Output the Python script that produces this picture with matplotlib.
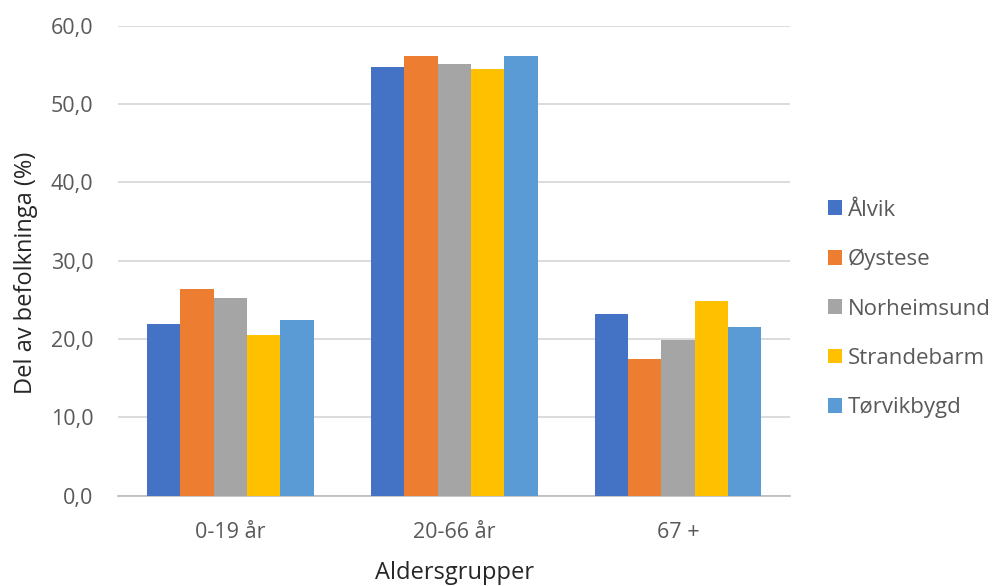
import numpy as np
import matplotlib.pyplot as plt

# Aldersgrupper og stader
grupper = ['0-19 år', '20-66 år', '67 +']
stader = ['Ålvik', 'Øystese', 'Norheimsund', 'Strandebarm', 'Tørvikbygd']

alvik = [21.9, 54.7, 23.2]
oystese = [26.4, 56.2, 17.5]
norheimsund = [25.2, 55.1, 19.9]
strandebarm = [20.5, 54.5, 24.9]
torvikbygd = [22.4, 56.2, 21.5]

verdiar = [alvik, oystese, norheimsund, strandebarm, torvikbygd]
fargar = ['#4472C4', '#ED7D31', '#A5A5A5', '#FFC000', '#5B9BD5']

plt.rcParams['font.family'] = ['Open Sans', 'DejaVu Sans']

fig = plt.figure(figsize=(9.95, 5.86), dpi=100)
ax = fig.add_axes([0.119, 0.154, 0.675, 0.802])

x = np.arange(len(grupper))
bredde = 0.149
for i, (namn, v) in enumerate(zip(stader, verdiar)):
    ax.bar(x + (i - 2) * bredde, v, bredde, color=fargar[i], label=namn, zorder=3)

ax.set_xlim(-0.5, 2.5)
ax.set_ylim(0, 60)
ax.set_yticks(np.arange(0, 61, 10))
ax.set_yticklabels([f'{t:.1f}'.replace('.', ',') for t in np.arange(0, 61, 10)])
ax.set_xticks(x)
ax.set_xticklabels(grupper)
ax.grid(axis='y', color='#D9D9D9', linewidth=1.3, zorder=0)
for s in ['top', 'right', 'left']:
    ax.spines[s].set_visible(False)
ax.spines['bottom'].set_color('#BFBFBF')
ax.spines['bottom'].set_linewidth(1.3)
ax.tick_params(length=0, labelsize=15.5, colors='#595959')
ax.tick_params(axis='y', pad=18)
ax.tick_params(axis='x', pad=19)

ax.set_ylabel('Del av befolkninga (%)', fontsize=17, color='#262626')
ax.set_xlabel('Aldersgrupper', fontsize=17, color='#262626', va='top')
ax.yaxis.set_label_coords(-0.12, 0.474)
ax.xaxis.set_label_coords(0.5, -0.138)

fig.legend(loc='center left', bbox_to_anchor=(0.823, 0.473), frameon=False,
           borderaxespad=0, fontsize=16, labelcolor='#595959', labelspacing=1.27,
           handlelength=0.64, handleheight=0.64, handletextpad=0.25)

fig.savefig('out.png', dpi=100)
